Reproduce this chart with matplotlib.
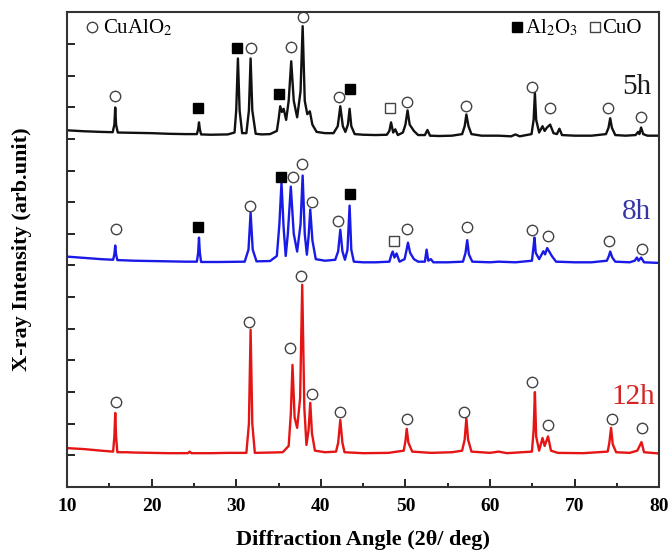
import numpy as np
import matplotlib.pyplot as plt
from matplotlib.ticker import MultipleLocator, NullFormatter

plt.rcParams['font.family'] = ['Liberation Serif', 'DejaVu Serif']
plt.rcParams['mathtext.fontset'] = 'stix'

# (2theta, intensity above own baseline)
pts_5h = [(10.0, 0.27), (12.0, 0.24), (14.0, 0.22), (15.4, 0.21), (15.6, 0.45), (15.7, 0.99), (15.8, 0.45),
          (16.0, 0.2), (18.0, 0.19), (20.0, 0.18), (22.0, 0.16), (24.0, 0.15), (25.35, 0.15), (25.5, 0.3),
          (25.6, 0.52), (25.7, 0.3), (25.85, 0.14), (27.0, 0.13), (29.0, 0.14), (29.8, 0.2), (30.0, 0.9),
          (30.2, 2.54), (30.4, 0.9), (30.7, 0.18), (31.2, 0.18), (31.5, 0.9), (31.7, 2.54), (31.9, 0.9),
          (32.3, 0.16), (33.0, 0.14), (34.0, 0.15), (34.8, 0.25), (35.0, 0.6), (35.2, 1.03), (35.4, 0.85),
          (35.6, 0.95), (35.9, 0.6), (36.2, 1.2), (36.5, 2.45), (36.8, 1.2), (37.2, 0.68), (37.6, 1.5),
          (37.85, 3.56), (38.1, 1.2), (38.4, 0.78), (38.7, 0.87), (39.0, 0.45), (39.5, 0.22), (40.5, 0.18),
          (41.5, 0.18), (42.0, 0.4), (42.3, 1.03), (42.6, 0.4), (42.9, 0.22), (43.2, 0.45), (43.4, 0.95),
          (43.6, 0.4), (44.0, 0.15), (45.0, 0.13), (46.5, 0.12), (47.8, 0.13), (48.1, 0.25), (48.3, 0.52),
          (48.55, 0.2), (48.8, 0.3), (49.1, 0.12), (49.7, 0.2), (50.0, 0.45), (50.25, 0.9), (50.5, 0.45),
          (51.0, 0.25), (51.5, 0.12), (52.3, 0.12), (52.6, 0.28), (52.9, 0.1), (54.0, 0.09), (55.5, 0.1),
          (56.7, 0.15), (57.0, 0.4), (57.2, 0.77), (57.45, 0.4), (57.8, 0.15), (59.0, 0.1), (61.0, 0.1),
          (62.5, 0.08), (63.0, 0.14), (63.5, 0.08), (64.9, 0.15), (65.15, 0.6), (65.3, 1.45), (65.45, 0.6),
          (65.8, 0.2), (66.2, 0.4), (66.45, 0.25), (66.7, 0.35), (67.1, 0.45), (67.5, 0.18), (67.9, 0.15),
          (68.2, 0.32), (68.5, 0.12), (70.0, 0.1), (72.0, 0.1), (73.7, 0.15), (74.0, 0.35), (74.2, 0.65),
          (74.4, 0.35), (74.8, 0.12), (76.0, 0.1), (77.2, 0.12), (77.5, 0.22), (77.65, 0.15), (77.85, 0.36),
          (78.1, 0.15), (78.6, 0.1), (80.0, 0.1)]

pts_8h = [(10.0, 0.28), (12.0, 0.24), (14.0, 0.2), (15.45, 0.18), (15.6, 0.35), (15.7, 0.63), (15.8, 0.35),
          (15.95, 0.17), (18.0, 0.15), (20.0, 0.14), (22.0, 0.13), (24.0, 0.12), (25.35, 0.12), (25.5, 0.4),
          (25.6, 0.88), (25.7, 0.4), (25.85, 0.11), (28.0, 0.11), (31.0, 0.12), (31.45, 0.5), (31.7, 1.67),
          (31.95, 0.5), (32.4, 0.13), (34.0, 0.14), (34.8, 0.3), (35.1, 1.3), (35.35, 2.62), (35.6, 1.2),
          (35.85, 0.3), (36.1, 1.0), (36.45, 2.49), (36.8, 1.0), (37.2, 0.44), (37.6, 1.3), (37.85, 2.84),
          (38.1, 1.0), (38.35, 0.34), (38.55, 0.9), (38.75, 1.77), (39.0, 0.8), (39.4, 0.2), (40.5, 0.15),
          (41.7, 0.18), (42.05, 0.45), (42.3, 1.13), (42.55, 0.45), (42.85, 0.18), (43.15, 0.5), (43.4, 1.89),
          (43.6, 0.5), (43.9, 0.12), (45.0, 0.1), (46.5, 0.1), (48.1, 0.12), (48.35, 0.35), (48.5, 0.44),
          (48.7, 0.25), (48.95, 0.38), (49.3, 0.12), (49.9, 0.2), (50.1, 0.45), (50.3, 0.72), (50.55, 0.4),
          (51.0, 0.2), (51.5, 0.12), (52.3, 0.12), (52.5, 0.5), (52.7, 0.15), (53.0, 0.2), (53.3, 0.1),
          (55.0, 0.1), (56.8, 0.12), (57.1, 0.4), (57.3, 0.8), (57.5, 0.35), (57.9, 0.12), (60.0, 0.1),
          (61.0, 0.12), (63.0, 0.1), (64.95, 0.15), (65.1, 0.5), (65.25, 0.88), (65.4, 0.4), (65.8, 0.2),
          (66.3, 0.45), (66.5, 0.35), (66.75, 0.55), (67.3, 0.3), (67.8, 0.12), (70.0, 0.1), (72.0, 0.1),
          (73.8, 0.15), (74.05, 0.3), (74.2, 0.44), (74.45, 0.25), (74.8, 0.12), (76.5, 0.1), (77.1, 0.15),
          (77.35, 0.25), (77.55, 0.15), (77.85, 0.25), (78.2, 0.1), (80.0, 0.08)]

pts_12h = [(10.0, 0.23), (12.0, 0.2), (14.0, 0.15), (15.45, 0.12), (15.6, 0.6), (15.7, 1.34), (15.8, 0.6),
           (15.95, 0.1), (17.0, 0.1), (18.0, 0.09), (20.0, 0.08), (22.0, 0.07), (24.3, 0.07), (24.5, 0.12),
           (24.7, 0.07), (27.0, 0.07), (29.0, 0.08), (31.2, 0.08), (31.5, 1.0), (31.7, 3.97), (31.9, 1.0),
           (32.2, 0.08), (34.0, 0.09), (35.5, 0.1), (36.2, 0.3), (36.45, 1.3), (36.65, 2.86), (36.9, 1.2),
           (37.2, 0.87), (37.55, 1.8), (37.8, 5.39), (38.05, 1.5), (38.3, 0.33), (38.55, 0.8), (38.75, 1.66),
           (38.95, 0.7), (39.3, 0.15), (40.5, 0.1), (41.8, 0.12), (42.05, 0.4), (42.3, 1.12), (42.55, 0.4),
           (42.8, 0.1), (45.0, 0.07), (48.0, 0.08), (49.8, 0.15), (50.0, 0.45), (50.15, 0.84), (50.35, 0.4),
           (50.8, 0.12), (53.0, 0.08), (55.5, 0.1), (56.7, 0.15), (57.0, 0.5), (57.2, 1.18), (57.4, 0.5),
           (57.8, 0.12), (60.0, 0.08), (61.0, 0.12), (62.0, 0.07), (64.95, 0.12), (65.15, 0.8), (65.3, 2.0),
           (65.45, 0.6), (65.8, 0.15), (66.2, 0.55), (66.45, 0.3), (66.85, 0.6), (67.2, 0.15), (68.0, 0.08),
           (71.0, 0.07), (73.9, 0.12), (74.1, 0.4), (74.3, 0.87), (74.5, 0.35), (74.9, 0.1), (76.5, 0.08),
           (77.4, 0.15), (77.9, 0.42), (78.2, 0.1), (80.0, 0.06)]

offsets = {'5h': 11.0, '8h': 7.0, '12h': 1.0}
colors = {'5h': '#111111', '8h': '#1a1ae6', '12h': '#e51515'}
label_colors = {'5h': '#1a1a1a', '8h': '#3535a5', '12h': '#d42424'}
label_pos = {'5h': (77.3, 12.65), '8h': (77.3, 8.7), '12h': (76.9, 2.85)}

# phase markers (2theta, y on plot)
cualo2_marks = [(15.7, 12.34), (31.8, 13.86), (36.5, 13.89), (37.9, 14.84), (42.1, 12.31), (50.2, 12.15),
                (57.1, 12.03), (65.0, 12.63), (67.1, 11.96), (73.9, 11.96), (77.8, 11.68),
                (15.8, 8.16), (31.6, 8.89), (36.7, 9.81), (37.8, 10.22), (39.0, 9.02), (42.0, 8.39),
                (50.2, 8.16), (57.3, 8.23), (65.0, 8.13), (66.9, 7.94), (74.0, 7.78), (77.9, 7.53),
                (15.8, 2.69), (31.5, 5.22), (36.4, 4.40), (37.7, 6.68), (39.0, 2.94), (42.3, 2.37),
                (50.2, 2.15), (56.9, 2.37), (65.0, 3.32), (66.9, 1.96), (74.4, 2.15), (77.9, 1.87)]
al2o3_marks = [(25.5, 11.99), (30.1, 13.86), (35.1, 12.41), (43.5, 12.59),
               (25.5, 8.23), (35.3, 9.81), (43.4, 9.27)]
cuo_marks = [(48.2, 11.96), (48.7, 7.78)]

fig = plt.figure(figsize=(6.7, 5.56), dpi=100)
ax = fig.add_axes([0.1, 0.124, 0.884, 0.854])

for name, pts in [('5h', pts_5h), ('8h', pts_8h), ('12h', pts_12h)]:
    arr = np.array(pts)
    ax.plot(arr[:, 0], arr[:, 1] + offsets[name], color=colors[name], lw=1.7)
    ax.text(*label_pos[name], name, color=label_colors[name], fontsize=21, ha='center', va='center')

c = np.array(cualo2_marks)
ax.plot(c[:, 0], c[:, 1], 'o', ms=7.5, mfc='white', mec='#444444', mew=1.0, ls='none')
a = np.array(al2o3_marks)
ax.plot(a[:, 0], a[:, 1], 's', ms=7.5, mfc='black', mec='black', ls='none')
u = np.array(cuo_marks)
ax.plot(u[:, 0], u[:, 1], 's', ms=7.5, mfc='white', mec='#444444', mew=1.0, ls='none')

# legend-like annotations at the top
ax.plot([13.0], [14.53], 'o', ms=7.5, mfc='white', mec='#444444', mew=1.0)
ax.text(14.2, 14.5, 'CuAlO$_2$', fontsize=15, va='center')
ax.plot([63.2], [14.53], 's', ms=6.5, mfc='black', mec='black')
ax.text(64.1, 14.5, 'Al$_2$O$_3$', fontsize=15, va='center')
ax.plot([72.4], [14.53], 's', ms=6.5, mfc='white', mec='#444444', mew=1.0)
ax.text(73.3, 14.5, 'CuO', fontsize=15, va='center')

ax.set_xlim(10, 80)
ax.set_ylim(0, 15)
ax.xaxis.set_major_locator(MultipleLocator(10))
ax.xaxis.set_minor_locator(MultipleLocator(5))
ax.yaxis.set_major_locator(MultipleLocator(1))
ax.yaxis.set_major_formatter(NullFormatter())
ax.tick_params(direction='in', length=6, width=1.2, top=False, right=False)
ax.tick_params(which='minor', direction='in', length=3, width=1.2, top=False)
ax.tick_params(axis='x', labelsize=14, pad=8)
for lab in ax.get_xticklabels():
    lab.set_fontweight('bold')
for s in ax.spines.values():
    s.set_linewidth(1.5)
    s.set_color('#333333')

ax.set_xlabel('Diffraction Angle (2θ/ deg)', fontsize=16, fontweight='bold', labelpad=11)
ax.set_ylabel('X-ray Intensity (arb.unit)', fontsize=16, fontweight='bold', labelpad=22)

plt.savefig('out.png', dpi=100)
